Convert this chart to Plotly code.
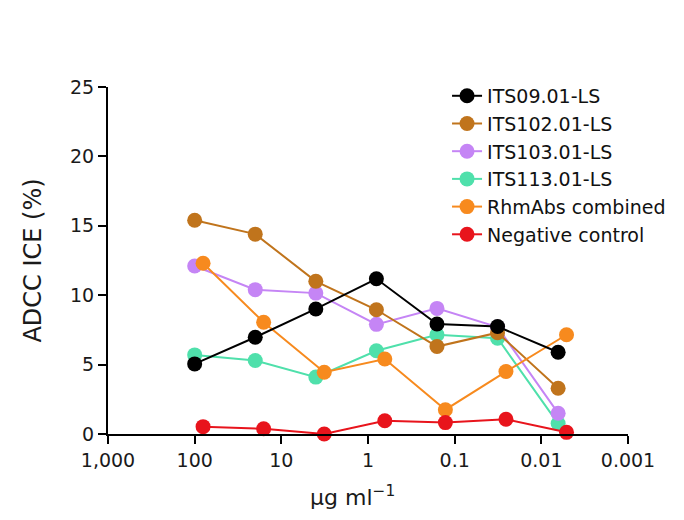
import plotly.graph_objects as go

# ====================== DATA ======================
# concentrations (ug/ml), 5-fold dilution series
conc_mab = [100, 20, 4, 0.8, 0.16, 0.032, 0.0064]
conc_comb = [80, 16, 3.2, 0.64, 0.128, 0.0256, 0.00512]

its09 = [5.05, 6.97, 9.01, 11.18, 7.93, 7.74, 5.89]
its102 = [15.4, 14.4, 11.0, 8.95, 6.3, 7.3, 3.3]
its103 = [12.1, 10.4, 10.15, 7.9, 9.05, 7.7, 1.5]
its113 = [5.7, 5.3, 4.1, 6.0, 7.15, 6.9, 0.75]
rhmabs = [12.3, 8.05, 4.45, 5.4, 1.75, 4.5, 7.15]
neg_ctrl = [0.53, 0.38, 0.0, 0.96, 0.82, 1.06, 0.12]

tick_vals = [1000, 100, 10, 1, 0.1, 0.01, 0.001]
tick_text = ['1,000', '100', '10', '1', '0.1', '0.01', '0.001']

FONT = 'DejaVu Sans'

# name, x, y, colour, legend rank ; listed in drawing order
series = [
    ('ITS113.01-LS', conc_mab, its113, '#4fe0ab', 4),
    ('ITS103.01-LS', conc_mab, its103, '#c585f5', 3),
    ('ITS102.01-LS', conc_mab, its102, '#c0741c', 2),
    ('RhmAbs combined', conc_comb, rhmabs, '#f78a1e', 5),
    ('ITS09.01-LS', conc_mab, its09, '#000000', 1),
    ('Negative control', conc_comb, neg_ctrl, '#e8141c', 6),
]

fig = go.Figure()
for name, xs, ys, col, rank in series:
    fig.add_trace(go.Scatter(
        x=xs, y=ys, name=name, mode='lines+markers',
        line=dict(color=col, width=2),
        marker=dict(color=col, size=15),
        cliponaxis=False, legendrank=rank
    ))

fig.update_layout(
    width=684, height=520,
    margin=dict(l=100, r=64, t=79, b=94),
    paper_bgcolor='white', plot_bgcolor='white',
    font=dict(family=FONT, size=19, color='#1a1a1a'),
    showlegend=True,
    legend=dict(x=0.652, y=1.029, xanchor='left', yanchor='top',
                font=dict(size=19, color='#111111'),
                bgcolor='rgba(0,0,0,0)', tracegroupgap=0,
                itemwidth=30)
)

# x-axis title as annotation (sits slightly left of centre in the original)
fig.add_annotation(
    text='μg ml<sup>−1</sup>', xref='paper', yref='paper',
    x=0.471, y=-0.178, xanchor='center', yanchor='middle',
    showarrow=False, font=dict(size=22, color='#1a1a1a')
)

fig.update_xaxes(
    type='log', range=[3, -3],
    tickvals=tick_vals, ticktext=tick_text,
    showline=True, linecolor='black', linewidth=2,
    ticks='outside', ticklen=8, tickwidth=2, tickcolor='black',
    showgrid=False, zeroline=False,
    tickfont=dict(size=19)
)
fig.update_yaxes(
    range=[0, 25], tickvals=[0, 5, 10, 15, 20, 25],
    showline=True, linecolor='black', linewidth=2,
    ticks='outside', ticklen=8, tickwidth=2, tickcolor='black',
    showgrid=False, zeroline=False,
    tickfont=dict(size=19),
    title=dict(text='ADCC ICE (%)', font=dict(size=24), standoff=22)
)

fig.write_html("out.html")
